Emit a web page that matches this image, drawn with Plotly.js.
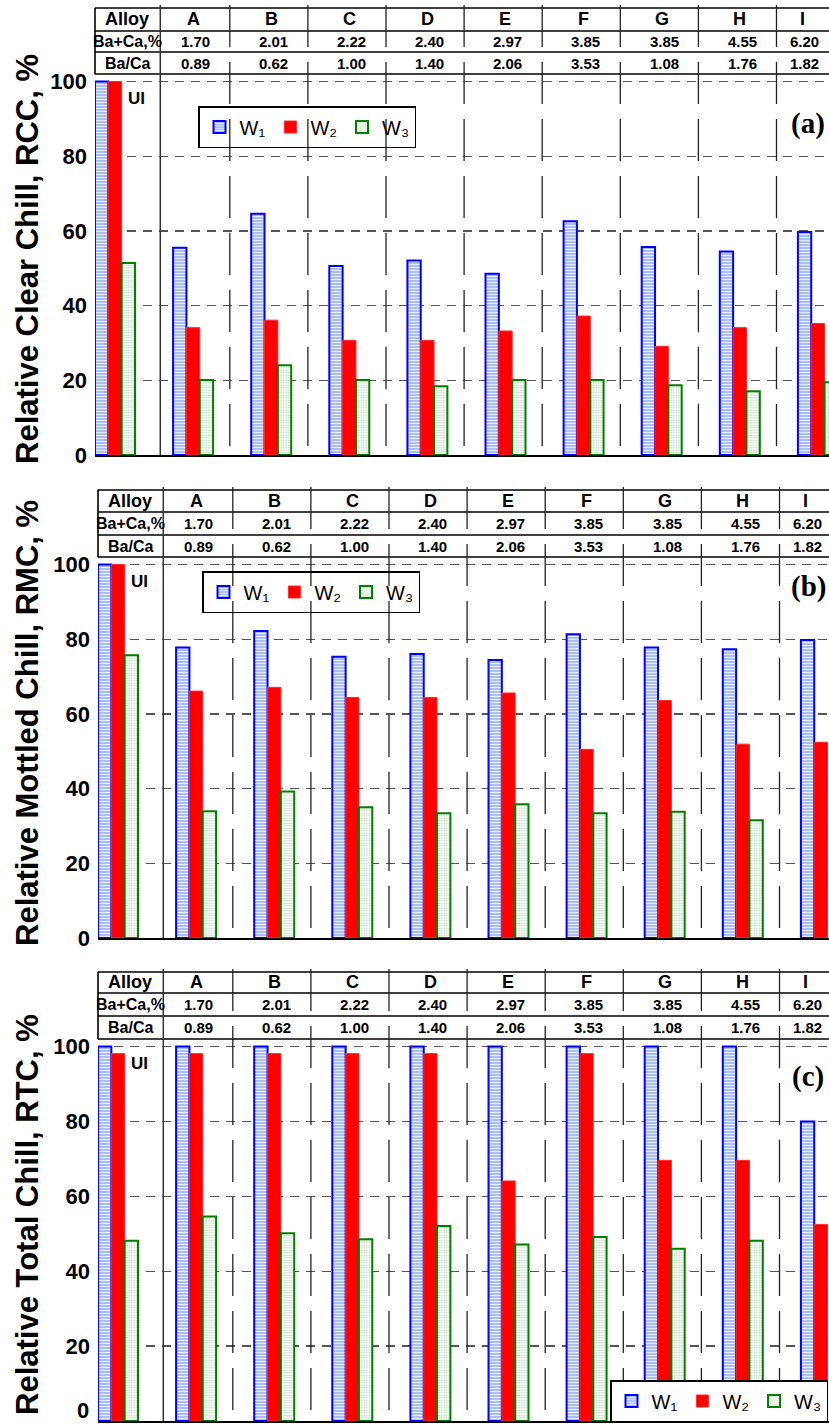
<!DOCTYPE html>
<html>
<head>
<meta charset="utf-8">
<script src="https://cdn.plot.ly/plotly-3.0.1.min.js"></script>
<style>html,body{margin:0;padding:0;background:#fff}#chart{width:829px;height:1425px}</style>
</head>
<body>
<div id="chart"></div>
<script>
// ---------- data ----------
const categories = ["UI", "A", "B", "C", "D", "E", "F", "G", "H", "I"];
const alloyLabels = ["A", "B", "C", "D", "E", "F", "G", "H", "I"];
const baPlusCa = ["1.70", "2.01", "2.22", "2.40", "2.97", "3.85", "3.85", "4.55", "6.20"];
const baOverCa = ["0.89", "0.62", "1.00", "1.40", "2.06", "3.53", "1.08", "1.76", "1.82"];
const seriesNames = ["W\u2081", "W\u2082", "W\u2083"];

// (a) Relative Clear Chill, RCC, %
const rccW1 = [100, 55.5, 64.6, 50.6, 52.1, 48.5, 62.6, 55.7, 54.5, 59.7];
const rccW2 = [100, 34.1, 36.1, 30.7, 30.7, 33.2, 37.2, 29.1, 34.1, 35.2];
const rccW3 = [51.4, 20.1, 24.0, 20.1, 18.4, 20.1, 20.1, 18.7, 17.1, 19.5];
// (b) Relative Mottled Chill, RMC, %
const rmcW1 = [100, 77.8, 82.2, 75.3, 76.0, 74.4, 81.3, 77.8, 77.3, 79.8];
const rmcW2 = [100, 66.1, 67.1, 64.4, 64.4, 65.6, 50.5, 63.6, 51.9, 52.4];
const rmcW3 = [75.7, 33.9, 39.2, 35.0, 33.4, 35.8, 33.4, 33.8, 31.5, null];
// (c) Relative Total Chill, RTC, %
const rtcW1 = [100, 100, 100, 100, 100, 100, 100, 100, 100, 80.0];
const rtcW2 = [98.1, 98.1, 98.1, 98.1, 98.1, 64.1, 98.1, 69.6, 69.6, 52.5];
const rtcW3 = [48.1, 54.6, 50.1, 48.5, 52.1, 47.1, 49.1, 46.0, 48.1, null];

const yTitles = ["Relative Clear Chill, RCC, %", "Relative Mottled Chill, RMC, %", "Relative Total Chill, RTC, %"];
const panelLabels = ["(a)", "(b)", "(c)"];
const rowLabels = ["Alloy", "Ba+Ca,%", "Ba/Ca"];
const yTickVals = [0, 20, 40, 60, 80, 100];

// ---------- layout geometry ----------
const W = 829, H = 1425, L = 95, PW = W - L;
const STEP = 78.1;               // px per category
const NARROW = "Liberation Sans Narrow, Arial Narrow, Liberation Sans, sans-serif";
const SANS = "Liberation Sans, Arial, sans-serif";
const SERIF = "Liberation Serif, Times New Roman, serif";
const py = p => (H - p) / H;
const pxp = p => (p - L) / PW;

const panels = [
  {s: "", w: [rccW1, rccW2, rccW3], left: 95, rows: [8, 31, 52, 74], bottom: 455,
   titleY: 259, labelY: 123, legX: 198, legY: 106, legBg: "rgba(0,0,0,0)", zeroAsNote: false},
  {s: "2", w: [rmcW1, rmcW2, rmcW3], left: 98, rows: [490, 512, 535, 557], bottom: 938,
   titleY: 723, labelY: 586, legX: 202, legY: 571, legBg: "rgba(0,0,0,0)", zeroAsNote: false},
  {s: "3", w: [rtcW1, rtcW2, rtcW3], left: 98, rows: [972, 993, 1016, 1039], bottom: 1421,
   titleY: 1215, labelY: 1076, legX: 610, legY: 1380, legBg: "#ffffff", zeroAsNote: true}
];

const styles = [
  {color: "#a9bdee", line: {color: "#0000ff", width: 2},
   pattern: {shape: "-", fgcolor: "#e6edfb", bgcolor: "#a6bbee", size: 3, solidity: 0.4, fillmode: "replace"}},
  {color: "#ff0000", line: {color: "#ff2a2a", width: 1}},
  {color: "#f4f8f4", line: {color: "#008000", width: 2},
   pattern: {shape: ".", fgcolor: "#b9d0b9", bgcolor: "#f6faf6", size: 2.5, solidity: 0.25, fillmode: "replace"}}
];

const tickFont = {family: NARROW, size: 22, weight: "bold", color: "#000"};
const traces = [];
const shapes = [];
const annotations = [];
const layout = {
  width: W, height: H,
  margin: {l: L, r: 0, t: 0, b: 0, pad: 0},
  paper_bgcolor: "#ffffff", plot_bgcolor: "rgba(0,0,0,0)",
  barmode: "group", bargap: 0.488, bargroupgap: 0,
  showlegend: true,
  font: {family: SANS, color: "#000"}
};

panels.forEach((p, pi) => {
  const xa = "x" + p.s, ya = "y" + p.s, lg = "legend" + p.s;
  const x0 = -0.256;
  const x1 = x0 + (W - p.left) / STEP;
  const [tTop, r1, r2, pTop] = p.rows;

  layout["xaxis" + p.s] = {
    domain: [pxp(p.left), 1], range: [x0, x1], type: "category",
    anchor: ya, showticklabels: false, ticks: "", showgrid: false, zeroline: false,
    showline: true, linecolor: "#000", linewidth: 1.5, fixedrange: true
  };
  const tv = p.zeroAsNote ? yTickVals.filter(v => v !== 0) : yTickVals;
  layout["yaxis" + p.s] = {
    domain: [py(p.bottom), py(pTop)], range: [0, 102], anchor: xa,
    tickvals: tv, ticktext: tv.map(String), ticks: "", ticklabelstandoff: 7,
    tickfont: tickFont,
    showgrid: true, gridcolor: "#555", gridwidth: 1.3, griddash: "9px,7px",
    zeroline: false, showline: false, fixedrange: true
  };
  if (p.zeroAsNote) {
    // bottom tick label sits on the lower page edge; keep it just inside the picture
    annotations.push({text: "0", xref: "paper", yref: ya, x: pxp(p.left - 7), y: 0,
      xanchor: "right", yanchor: "bottom", yshift: -4, showarrow: false, font: tickFont});
  }
  layout[lg] = {
    orientation: "h", x: pxp(p.legX), xanchor: "left", y: py(p.legY), yanchor: "top",
    bgcolor: p.legBg, bordercolor: "#000", borderwidth: 1.5,
    font: {family: SANS, size: 20, color: "#000"}, itemclick: false
  };

  p.w.forEach((vals, si) => {
    traces.push({
      type: "bar", x: categories, y: vals, name: seriesNames[si],
      xaxis: xa, yaxis: ya, legend: lg, showlegend: true,
      marker: styles[si], hoverinfo: "skip"
    });
  });

  // table horizontal rules
  [tTop, r1, r2, pTop].forEach(r => {
    shapes.push({type: "line", xref: "paper", yref: "paper", x0: pxp(p.left), x1: 1.02, y0: py(r), y1: py(r),
      line: {color: "#000", width: 1.6}});
  });
  // table left border
  shapes.push({type: "line", xref: "paper", yref: "paper", x0: pxp(p.left), x1: pxp(p.left), y0: py(tTop), y1: py(pTop),
    line: {color: "#000", width: 1.6}});
  // solid separator after "Alloy" column through the whole panel
  shapes.push({type: "line", xref: xa, yref: "paper", x0: 0.58, x1: 0.58, y0: py(tTop - 3), y1: py(p.bottom),
    line: {color: "#333", width: 1.5}});
  // long-dash separators between alloys
  for (let k = 1; k <= 8; k++) {
    shapes.push({type: "line", xref: xa, yref: "paper", x0: k + 0.47, x1: k + 0.47, y0: py(tTop - 3), y1: py(p.bottom),
      line: {color: "#222", width: 1.3, dash: "42px,15px"}});
  }

  // table text
  const c1 = py((tTop + r1) / 2), c2 = py((r1 + r2) / 2), c3 = py((r2 + pTop) / 2);
  const headFont = {family: NARROW, size: 18, weight: "bold", color: "#000"};
  const labFont = {family: NARROW, size: 16, weight: "bold", color: "#000"};
  const valFont = {family: NARROW, size: 15, weight: "bold", color: "#000"};
  [[rowLabels[0], c1, headFont], [rowLabels[1], c2, labFont], [rowLabels[2], c3, labFont]].forEach(([t, y, f]) => {
    annotations.push({text: t, xref: xa, yref: "paper", x: 0.16, y: y, xanchor: "center", yanchor: "middle",
      showarrow: false, font: f});
  });
  alloyLabels.forEach((a, i) => {
    const xc = (i === 8) ? 8.8 : i + 1;
    annotations.push({text: a, xref: xa, yref: "paper", x: xc, y: c1, xanchor: "center", yanchor: "middle", showarrow: false, font: headFont});
    annotations.push({text: baPlusCa[i], xref: xa, yref: "paper", x: xc + 0.03, y: c2, xanchor: "center", yanchor: "middle", showarrow: false, font: valFont});
    annotations.push({text: baOverCa[i], xref: xa, yref: "paper", x: xc + 0.03, y: c3, xanchor: "center", yanchor: "middle", showarrow: false, font: valFont});
  });

  // UI marker text
  annotations.push({text: "UI", xref: xa, yref: ya, x: 0.27, y: 95.5, xanchor: "center", yanchor: "middle",
    showarrow: false, font: {family: NARROW, size: 17, weight: "bold", color: "#000"}});
  // panel label
  annotations.push({text: panelLabels[pi], xref: "paper", yref: "paper", x: pxp(808), y: py(p.labelY),
    xanchor: "center", yanchor: "middle", showarrow: false,
    font: {family: SERIF, size: 29, weight: "bold", color: "#000"}});
  // y-axis title
  annotations.push({text: yTitles[pi], xref: "paper", yref: "paper", x: pxp(27), y: py(p.titleY),
    xanchor: "center", yanchor: "middle", textangle: -90, showarrow: false,
    font: {family: SANS, size: 31, weight: "bold", color: "#000"}});
});

layout.shapes = shapes;
layout.annotations = annotations;

Plotly.newPlot("chart", traces, layout, {displayModeBar: false, staticPlot: true});
</script>
</body>
</html>
